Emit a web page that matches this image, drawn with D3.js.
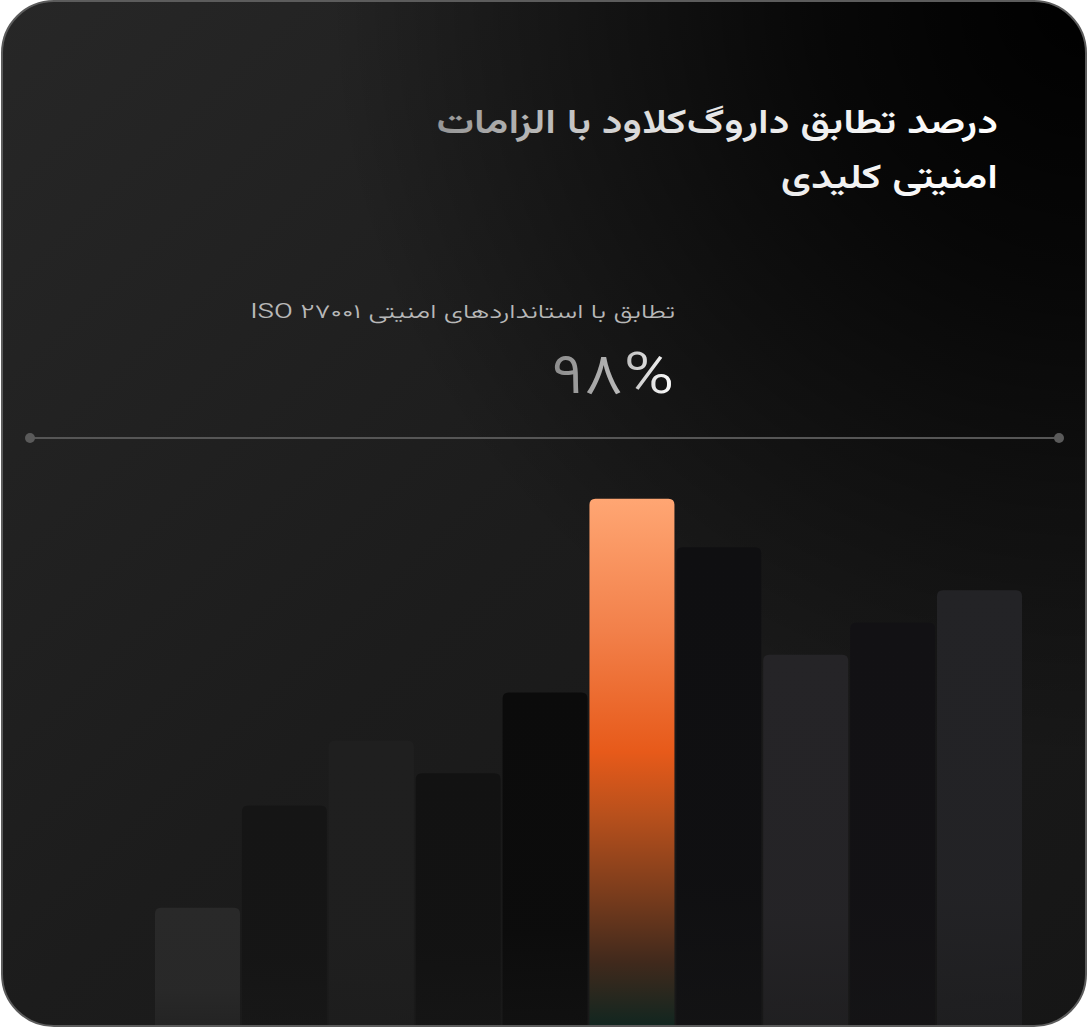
<!DOCTYPE html>
<html lang="fa">
<head>
<meta charset="utf-8">
<script src="https://cdn.jsdelivr.net/npm/d3@7"></script>
<style>
  html, body { margin: 0; padding: 0; background: #ffffff; }
  svg { display: block; }
  text { font-family: "Vazirmatn", "Noto Sans Arabic", "DejaVu Sans", sans-serif; }
</style>
</head>
<body>
<div id="chart"></div>
<script>
// ---- data ----
const titleLines = ["درصد تطابق داروگ‌کلاود با الزامات", "امنیتی کلیدی"];
const subtitle = "تطابق با استانداردهای امنیتی ISO ۲۷۰۰۱";
const headline = "۹۸%";
const categories = ["b1", "b2", "b3", "b4", "b5", "b6", "b7", "b8", "b9", "b10"];
const values = [22, 41, 53, 47, 62, 98, 89, 69, 75, 81];
const highlightIndex = 5;
const barColors = ["#292929", "#151515", "#1f1f1f", "#121212", "#0b0b0b", null, "#0f0f11", "#252427", "#121114", "#232326"];

const W = 1088, H = 1028;
const svg = d3.select("#chart").append("svg").attr("width", W).attr("height", H);
const defs = svg.append("defs");

// card background gradients
const bg = defs.append("linearGradient").attr("id", "bg")
  .attr("x1", "0").attr("y1", "0").attr("x2", "1").attr("y2", "1");
bg.append("stop").attr("offset", "0").attr("stop-color", "#272727");
bg.append("stop").attr("offset", "0.5").attr("stop-color", "#1c1c1c");
bg.append("stop").attr("offset", "1").attr("stop-color", "#161616");

const rg = defs.append("radialGradient").attr("id", "shade")
  .attr("gradientUnits", "userSpaceOnUse").attr("cx", 1088).attr("cy", 0).attr("r", 760);
rg.append("stop").attr("offset", "0").attr("stop-color", "#000").attr("stop-opacity", 1);
rg.append("stop").attr("offset", "0.35").attr("stop-color", "#000").attr("stop-opacity", 0.75);
rg.append("stop").attr("offset", "1").attr("stop-color", "#000").attr("stop-opacity", 0);

// clip for card
defs.append("clipPath").attr("id", "card").append("rect")
  .attr("x", 2).attr("y", 1).attr("width", W - 4).attr("height", H - 3).attr("rx", 52);

// orange gradient
const og = defs.append("linearGradient").attr("id", "orange")
  .attr("x1", 0).attr("y1", 0).attr("x2", 0).attr("y2", 1);
[[0, "#ffa673"], [0.25, "#f2804a"], [0.48, "#e75a1a"], [0.6, "#b8501c"], [0.75, "#7a3c1c"], [0.88, "#40291c"], [1, "#112620"]]
  .forEach(([o, c]) => og.append("stop").attr("offset", o).attr("stop-color", c));

// title text gradient
const tg = defs.append("linearGradient").attr("id", "titleGrad")
  .attr("x1", 0).attr("y1", 0).attr("x2", 1).attr("y2", 0);
tg.append("stop").attr("offset", "0").attr("stop-color", "#959595");
tg.append("stop").attr("offset", "0.4").attr("stop-color", "#e2e2e2");
tg.append("stop").attr("offset", "1").attr("stop-color", "#ffffff");

const ng = defs.append("linearGradient").attr("id", "numGrad")
  .attr("x1", 0).attr("y1", 0).attr("x2", 1).attr("y2", 0);
ng.append("stop").attr("offset", "0").attr("stop-color", "#8a8a8a");
ng.append("stop").attr("offset", "0.6").attr("stop-color", "#bdbdbd");
ng.append("stop").attr("offset", "1").attr("stop-color", "#ffffff");

// card
const card = svg.append("g").attr("clip-path", "url(#card)");
card.append("rect").attr("x", 0).attr("y", 0).attr("width", W).attr("height", H).attr("fill", "url(#bg)");
card.append("rect").attr("x", 0).attr("y", 0).attr("width", W).attr("height", H).attr("fill", "url(#shade)");

// scales
const x = d3.scaleBand().domain(categories).range([155, 1022]).paddingInner(0.022);
const y = d3.scaleLinear().domain([0, 100]).range([1026, 488]);

// per-bar gradients for gray bars
barColors.forEach((c, i) => {
  if (!c) return;
  const g = defs.append("linearGradient").attr("id", "bar" + i)
    .attr("x1", 0).attr("y1", 0).attr("x2", 0).attr("y2", 1);
  g.append("stop").attr("offset", "0").attr("stop-color", c).attr("stop-opacity", 1);
  g.append("stop").attr("offset", "0.7").attr("stop-color", c).attr("stop-opacity", 0.95);
  g.append("stop").attr("offset", "1").attr("stop-color", c).attr("stop-opacity", 0.6);
});

const r = 6;
function barPath(x0, y0, w, h) {
  return `M${x0},${y0 + h}V${y0 + r}Q${x0},${y0} ${x0 + r},${y0}H${x0 + w - r}Q${x0 + w},${y0} ${x0 + w},${y0 + r}V${y0 + h}Z`;
}
card.selectAll("path.bar").data(values).join("path")
  .attr("class", "bar")
  .attr("d", (d, i) => barPath(x(categories[i]), y(d), x.bandwidth(), y(0) - y(d)))
  .attr("fill", (d, i) => i === highlightIndex ? "url(#orange)" : `url(#bar${i})`);

// divider line
card.append("line").attr("x1", 30).attr("x2", 1059).attr("y1", 438).attr("y2", 438)
  .attr("stroke", "#565656").attr("stroke-width", 2);
card.selectAll("circle.end").data([30, 1059]).join("circle")
  .attr("class", "end").attr("cx", d => d).attr("cy", 438).attr("r", 5).attr("fill", "#5a5a5a");

// title (horizontally widened to match the original typeface's width)
const title = card.append("text")
  .attr("transform", "translate(998,0) scale(1.24,1)")
  .attr("direction", "rtl").attr("text-anchor", "start")
  .attr("font-size", 34).attr("font-weight", 600).attr("fill", "url(#titleGrad)");
titleLines.forEach((t, i) => {
  title.append("tspan").attr("x", 0).attr("y", 133 + i * 55).text(t);
});

// subtitle
card.append("text")
  .attr("transform", "translate(675,318) scale(1.38,1)")
  .attr("direction", "rtl").attr("text-anchor", "start")
  .attr("font-size", 20).attr("font-weight", 300).attr("fill", "#b8b8b8")
  .text(subtitle);

// headline number
card.append("text")
  .attr("transform", "translate(674,393) scale(1.18,1)")
  .attr("direction", "rtl").attr("text-anchor", "start")
  .attr("font-size", 58).attr("font-weight", 300).attr("fill", "url(#numGrad)")
  .text(headline);

// card border
svg.append("rect").attr("x", 2).attr("y", 1).attr("width", W - 4).attr("height", H - 3).attr("rx", 52)
  .attr("fill", "none").attr("stroke", "#5c5c5c").attr("stroke-width", 2);
</script>
</body>
</html>
